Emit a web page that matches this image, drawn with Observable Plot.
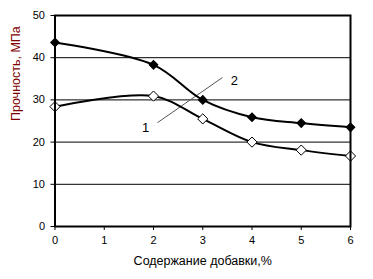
<!DOCTYPE html>
<html><head><meta charset="utf-8">
<script src="https://cdn.jsdelivr.net/npm/d3@7"></script>
<script src="https://cdn.jsdelivr.net/npm/@observablehq/plot@0.6"></script>
<style>
body{margin:0;background:#fff;}
#chart svg{font-family:"Liberation Sans",Arial,sans-serif;}
</style>
</head><body><div id="chart"></div>
<script>
const xValues = [0, 2, 3, 4, 5, 6];
const series1 = [28.4, 30.9, 25.5, 20.0, 18.1, 16.7]; // open diamonds
const series2 = [43.6, 38.3, 30.0, 25.9, 24.5, 23.5]; // filled diamonds
const yTicks = [0, 10, 20, 30, 40, 50];
const xTicks = [0, 1, 2, 3, 4, 5, 6];
const gridY = [10, 20, 30, 40];
const leader = [{x1: 2.08, y1: 24.6, x2: 3.40, y2: 35.3}];
const labels = [{x: 3.64, y: 34.6, t: "2"}, {x: 1.84, y: 23.5, t: "1"}];

const d1 = xValues.map((x, i) => ({x, y: series1[i]}));
const d2 = xValues.map((x, i) => ({x, y: series2[i]}));

const chart = Plot.plot({
  width: 373, height: 279,
  marginLeft: 54.5, marginRight: 23, marginTop: 15, marginBottom: 53,
  style: {fontSize: "11px", color: "#000", background: "#fff"},
  x: {domain: [0, 6], ticks: xTicks, tickFormat: d3.format("d"), tickSize: 4, tickPadding: 6, label: null},
  y: {domain: [0, 50], ticks: yTicks, tickSize: 4, tickPadding: 6, label: null},
  marks: [
    Plot.ruleY(gridY, {stroke: "#000", strokeWidth: 1}),
    Plot.link(leader, {x1: "x1", y1: "y1", x2: "x2", y2: "y2", stroke: "#555", strokeWidth: 1}),
    Plot.line(d2, {x: "x", y: "y", curve: "catmull-rom", stroke: "#000", strokeWidth: 2}),
    Plot.line(d1, {x: "x", y: "y", curve: "catmull-rom", stroke: "#000", strokeWidth: 2}),
    Plot.dot(d2, {x: "x", y: "y", symbol: "diamond2", r: 3.6, fill: "#000", stroke: "#000"}),
    Plot.dot(d1, {x: "x", y: "y", symbol: "diamond2", r: 4.6, fill: "#fff", stroke: "#000", strokeWidth: 1}),
    Plot.text(labels, {x: "x", y: "y", text: "t", fontSize: 13, fill: "#000"}),
    Plot.frame({stroke: "#000", strokeWidth: 2}),
    Plot.text(["Прочность, МПа"], {frameAnchor: "left", dx: -39.5, rotate: -90, fontSize: 12.5, fill: "#800000"}),
    Plot.text(["Содержание добавки,%"], {frameAnchor: "bottom", dy: 38, fontSize: 12.5, fill: "#000"})
  ]
});
document.getElementById("chart").appendChild(chart);
</script></body></html>
